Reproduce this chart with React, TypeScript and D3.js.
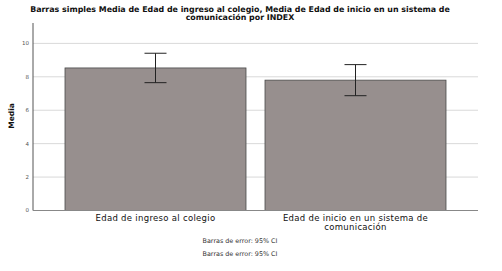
import React, { useEffect, useRef } from 'react';
import * as d3 from 'd3';

// chart data
const categories = ['Edad de ingreso al colegio', 'Edad de inicio en un sistema de comunicación'];
const categoryLines = [['Edad de ingreso al colegio'], ['Edad de inicio en un sistema de', 'comunicación']];
const means = [8.53, 7.8];
const ciLow = [7.65, 6.87];
const ciHigh = [9.41, 8.73];
const yTicks = [0, 2, 4, 6, 8, 10];
const titleLines = [
    'Barras simples Media de Edad de ingreso al colegio, Media de Edad de inicio en un sistema de',
    'comunicación por INDEX'
];
const footnotes = ['Barras de error: 95% CI', 'Barras de error: 95% CI'];

const W = 502;
const H = 271;

const App = () => {
    const svgRef = useRef<SVGSVGElement>(null);

    useEffect(() => {
        const svg = d3.select(svgRef.current);
        svg.selectAll('*').remove();

        const left = 33, right = 478, top = 23, bottom = 210.5;

        const x = d3.scaleBand().domain(categories).range([left, right]).paddingInner(0.095).paddingOuter(0.16);
        const y = d3.scaleLinear().domain([0, 11.22]).range([bottom, top]);

        // gridlines
        svg.append('g')
            .selectAll('line')
            .data(yTicks.filter(d => d > 0))
            .enter().append('line')
            .attr('x1', left).attr('x2', right)
            .attr('y1', d => y(d)).attr('y2', d => y(d))
            .attr('stroke', '#d9d9d9').attr('stroke-width', 1);

        // bars
        svg.append('g')
            .selectAll('rect')
            .data(categories)
            .enter().append('rect')
            .attr('x', d => x(d)!)
            .attr('y', (d, i) => y(means[i]))
            .attr('width', x.bandwidth())
            .attr('height', (d, i) => bottom - y(means[i]))
            .attr('fill', '#978f8e')
            .attr('stroke', '#4a4a4a')
            .attr('stroke-width', 0.8);

        // error bars
        const eb = svg.append('g').attr('stroke', '#222').attr('stroke-width', 1);
        categories.forEach((c, i) => {
            const cx = x(c)! + x.bandwidth() / 2;
            eb.append('line').attr('x1', cx).attr('x2', cx).attr('y1', y(ciHigh[i])).attr('y2', y(ciLow[i]));
            eb.append('line').attr('x1', cx - 11).attr('x2', cx + 11).attr('y1', y(ciHigh[i])).attr('y2', y(ciHigh[i]));
            eb.append('line').attr('x1', cx - 11).attr('x2', cx + 11).attr('y1', y(ciLow[i])).attr('y2', y(ciLow[i]));
        });

        // axes
        svg.append('line').attr('x1', left).attr('x2', left).attr('y1', top).attr('y2', bottom)
            .attr('stroke', '#555').attr('stroke-width', 1);
        svg.append('line').attr('x1', left).attr('x2', right).attr('y1', bottom).attr('y2', bottom)
            .attr('stroke', '#888').attr('stroke-width', 1);

        // y tick labels
        svg.append('g')
            .selectAll('text')
            .data(yTicks)
            .enter().append('text')
            .attr('x', left - 4)
            .attr('y', d => y(d))
            .attr('dy', '0.35em')
            .attr('text-anchor', 'end')
            .attr('font-family', 'DejaVu Sans')
            .attr('font-size', '5.5px')
            .attr('fill', '#555')
            .text(d => d);

        // y axis label
        svg.append('text')
            .attr('transform', `translate(11,116) rotate(-90)`)
            .attr('text-anchor', 'middle')
            .attr('dy', '0.35em')
            .attr('font-family', 'DejaVu Sans')
            .attr('font-size', '7.5px')
            .attr('font-weight', 'bold')
            .attr('fill', '#111')
            .text('Media');

        // category labels
        categories.forEach((c, i) => {
            const cx = x(c)! + x.bandwidth() / 2;
            categoryLines[i].forEach((line, j) => {
                svg.append('text')
                    .attr('x', cx)
                    .attr('y', 221 + j * 9)
                    .attr('text-anchor', 'middle')
                    .attr('font-family', 'DejaVu Sans')
                    .attr('font-size', '8.5px')
                    .attr('letter-spacing', '0.3px')
                    .attr('fill', '#111')
                    .text(line);
            });
        });

        // title
        titleLines.forEach((line, j) => {
            svg.append('text')
                .attr('x', 240)
                .attr('y', 12 + j * 8)
                .attr('text-anchor', 'middle')
                .attr('font-family', 'DejaVu Sans')
                .attr('font-size', '7.9px')
                .attr('font-weight', 'bold')
                .attr('fill', '#111')
                .text(line);
        });

        // footnotes
        footnotes.forEach((line, j) => {
            svg.append('text')
                .attr('x', 240)
                .attr('y', 243 + j * 12.5)
                .attr('text-anchor', 'middle')
                .attr('font-family', 'DejaVu Sans')
                .attr('font-size', '6.4px')
                .attr('fill', '#333')
                .text(line);
        });
    }, []);

    return (
        <svg ref={svgRef} width={W} height={H}
            style={{ position: 'absolute', left: 0, top: 0, background: '#fff' }} />
    );
};

export default App;
